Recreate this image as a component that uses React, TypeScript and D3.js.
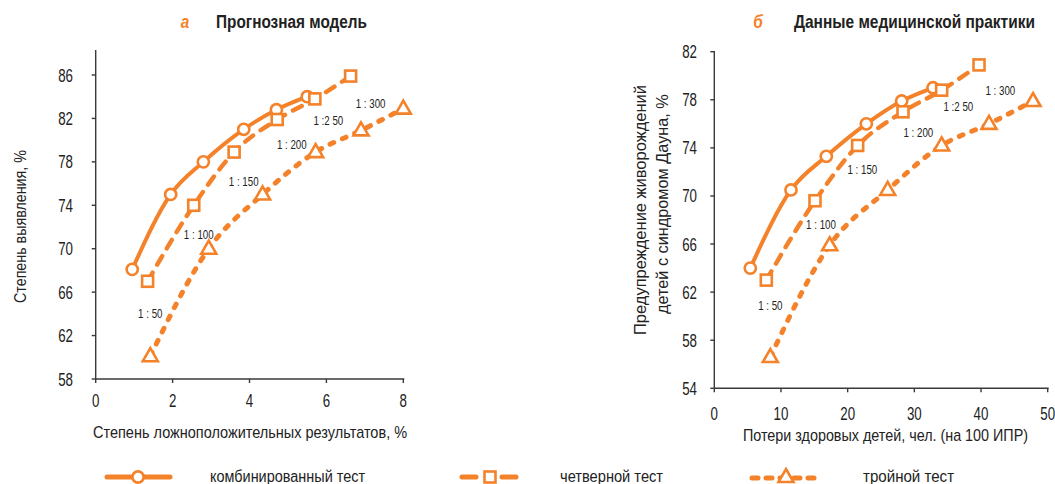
import React, { useLayoutEffect, useRef, useState } from "react";
import * as d3 from "d3";

const ORANGE = "#F4822A";
const AXIS = "#3a3a3a";
const FONT = "'Liberation Sans', Arial, sans-serif";

// Panel A: Прогнозная модель
const aXTicks = [0, 2, 4, 6, 8];
const aYTicks = [58, 62, 66, 70, 74, 78, 82, 86];
const aCombX = [0.95, 1.95, 2.8, 3.85, 4.7, 5.5];
const aCombY = [68.1, 75, 78, 81, 82.8, 84];
const aQuadX = [1.35, 2.55, 3.6, 4.72, 5.7, 6.63];
const aQuadY = [67, 74, 78.9, 81.9, 83.8, 85.9];
const aTripX = [1.42, 2.94, 4.34, 5.72, 6.9, 8.0];
const aTripY = [60.1, 70, 75, 78.9, 80.9, 82.9];
const aRatioLabels = ["1 : 50", "1 : 100", "1 : 150", "1 : 200", "1 :2 50", "1 : 300"];
const aRatioX = [1.42, 2.68, 3.85, 5.1, 6.05, 7.15];
const aRatioY = [64.0, 71.3, 76.2, 79.6, 81.8, 83.4];

// Panel B: Данные медицинской практики
const bXTicks = [0, 10, 20, 30, 40, 50];
const bYTicks = [54, 58, 62, 66, 70, 74, 78, 82];
const bCombX = [5.4, 11.5, 16.8, 22.8, 28.1, 32.8];
const bCombY = [64.0, 70.5, 73.3, 76.0, 77.9, 79.0];
const bQuadX = [7.8, 15.1, 21.5, 28.3, 34.1, 39.7];
const bQuadY = [63.0, 69.6, 74.2, 77.0, 78.8, 80.9];
const bTripX = [8.4, 17.3, 26.0, 34.1, 41.2, 47.8];
const bTripY = [56.6, 65.9, 70.5, 74.2, 76.0, 77.9];
const bRatioLabels = ["1 : 50", "1 : 100", "1 : 150", "1 : 200", "1 :2 50", "1 : 300"];
const bRatioX = [8.4, 16.0, 22.2, 30.6, 36.6, 42.9];
const bRatioY = [60.9, 67.6, 72.2, 75.3, 77.4, 78.8];

const legendLabels = ["комбинированный тест", "четверной тест", "тройной тест"];

type TProps = {
  x: number;
  y: number;
  children: React.ReactNode;
  size?: number;
  sx?: number;
  anchor?: "start" | "middle" | "end";
  rotate?: number;
  weight?: string;
  italic?: boolean;
  fill?: string;
  len?: number;
};

const T = ({ x, y, children, size = 16, sx = 1, anchor = "start", rotate = 0, weight = "normal", italic = false, fill = "#222", len }: TProps) => {
  const ref = useRef<SVGTextElement>(null);
  const [s, setS] = useState(len ? 0.85 : sx);
  useLayoutEffect(() => {
    if (len && ref.current) {
      const w = ref.current.getComputedTextLength();
      if (w > 0) setS(len / w);
    }
  }, [len, children]);
  return (
    <g transform={`translate(${x},${y}) rotate(${rotate}) scale(${s},1)`}>
      <text
        ref={ref}
        textAnchor={anchor}
        fontFamily={FONT}
        fontSize={size}
        fontWeight={weight}
        fontStyle={italic ? "italic" : "normal"}
        fill={fill}
      >
        {children}
      </text>
    </g>
  );
};

type PanelProps = {
  letter: string;
  title: string;
  letterX: number;
  titleX: number;
  titleLen: number;
  xDomain: [number, number];
  xRange: [number, number];
  yDomain: [number, number];
  yRange: [number, number];
  axisTop: number;
  xTicks: number[];
  yTicks: number[];
  yLabelRight: number;
  xTickBaseline: number;
  xLabel: string;
  xLabelX: number;
  xLabelY: number;
  xLabelLen: number;
  yLabelLines: string[];
  yLabelXs: number[];
  yLabelYs: number[];
  yLabelLens: number[];
  comb: [number[], number[]];
  quad: [number[], number[]];
  trip: [number[], number[]];
  ratio: [string[], number[], number[]];
};

const Circle = ({ x, y }: { x: number; y: number }) => (
  <circle cx={x} cy={y} r={5.6} fill="#fff" stroke={ORANGE} strokeWidth={2.6} />
);
const Square = ({ x, y }: { x: number; y: number }) => (
  <rect x={x - 5.5} y={y - 5.5} width={11} height={11} fill="#fff" stroke={ORANGE} strokeWidth={2.6} />
);
const Triangle = ({ x, y }: { x: number; y: number }) => (
  <path d={`M${x},${y - 8} L${x + 7.5},${y + 5} L${x - 7.5},${y + 5} Z`} fill="#fff" stroke={ORANGE} strokeWidth={2.6} strokeLinejoin="miter" />
);

function Panel(p: PanelProps) {
  const x = d3.scaleLinear().domain(p.xDomain).range(p.xRange);
  const y = d3.scaleLinear().domain(p.yDomain).range(p.yRange);
  const line = d3
    .line<[number, number]>()
    .x((d) => x(d[0]))
    .y((d) => y(d[1]))
    .curve(d3.curveMonotoneX);
  const pts = (s: [number[], number[]]) => s[0].map((v, i) => [v, s[1][i]] as [number, number]);
  const x0 = p.xRange[0];
  const y0 = p.yRange[0];
  return (
    <g>
      <T x={p.letterX} y={28} fill={ORANGE} size={18} weight="bold" italic anchor="middle" sx={0.85}>
        {p.letter}
      </T>
      <T x={p.titleX} y={28} size={18} weight="bold" len={p.titleLen}>
        {p.title}
      </T>
      {/* axes */}
      <line x1={x0} x2={x0} y1={p.axisTop} y2={y0} stroke={AXIS} strokeWidth={1.4} />
      <line x1={x0} x2={p.xRange[1] + 1} y1={y0} y2={y0} stroke={AXIS} strokeWidth={1.4} />
      {p.yTicks.map((t) => (
        <g key={"y" + t}>
          <line x1={x0 - 4} x2={x0} y1={y(t)} y2={y(t)} stroke={AXIS} strokeWidth={1.4} />
          <T x={p.yLabelRight} y={y(t) + 6.5} anchor="end" size={18.5} sx={0.72}>
            {t}
          </T>
        </g>
      ))}
      {p.xTicks.map((t) => (
        <g key={"x" + t}>
          <line x1={x(t)} x2={x(t)} y1={y0} y2={y0 + 4} stroke={AXIS} strokeWidth={1.4} />
          <T x={x(t)} y={p.xTickBaseline} anchor="middle" size={18.5} sx={0.72}>
            {t}
          </T>
        </g>
      ))}
      <T x={p.xLabelX} y={p.xLabelY} size={17} len={p.xLabelLen}>
        {p.xLabel}
      </T>
      {p.yLabelLines.map((l, i) => (
        <T key={l} x={p.yLabelXs[i]} y={p.yLabelYs[i]} rotate={-90} size={17} len={p.yLabelLens[i]}>
          {l}
        </T>
      ))}
      {/* series */}
      <path d={line(pts(p.trip)) || ""} fill="none" stroke={ORANGE} strokeWidth={5} strokeDasharray="4 9.5" strokeLinecap="round" />
      <path d={line(pts(p.quad)) || ""} fill="none" stroke={ORANGE} strokeWidth={4.4} strokeDasharray="10 9" strokeLinecap="round" />
      <path d={line(pts(p.comb)) || ""} fill="none" stroke={ORANGE} strokeWidth={4} />
      {pts(p.comb).map((d, i) => (
        <Circle key={"c" + i} x={x(d[0])} y={y(d[1])} />
      ))}
      {pts(p.quad).map((d, i) => (
        <Square key={"s" + i} x={x(d[0])} y={y(d[1])} />
      ))}
      {pts(p.trip).map((d, i) => (
        <Triangle key={"t" + i} x={x(d[0])} y={y(d[1])} />
      ))}
      {p.ratio[0].map((l, i) => (
        <T key={"r" + i} x={x(p.ratio[1][i])} y={y(p.ratio[2][i]) + 4.5} anchor="middle" size={12.5} sx={0.78}>
          {l}
        </T>
      ))}
    </g>
  );
}

export default function App() {
  return (
    <svg width={1055} height={484} style={{ position: "absolute", left: 0, top: 0, background: "#fff" }}>
      <rect width={1055} height={484} fill="#fff" />
      <Panel
        letter="а"
        title="Прогнозная модель"
        letterX={185}
        titleX={216}
        titleLen={151}
        xDomain={[0, 8]}
        xRange={[95.7, 403.3]}
        yDomain={[58, 86]}
        yRange={[379, 75]}
        axisTop={50}
        xTicks={aXTicks}
        yTicks={aYTicks}
        yLabelRight={73}
        xTickBaseline={407}
        xLabel="Степень ложноположительных результатов, %"
        xLabelX={93}
        xLabelY={438}
        xLabelLen={314}
        yLabelLines={["Степень выявления, %"]}
        yLabelXs={[26]}
        yLabelYs={[303]}
        yLabelLens={[153]}
        comb={[aCombX, aCombY]}
        quad={[aQuadX, aQuadY]}
        trip={[aTripX, aTripY]}
        ratio={[aRatioLabels, aRatioX, aRatioY]}
      />
      <Panel
        letter="б"
        title="Данные медицинской практики"
        letterX={758}
        titleX={794}
        titleLen={241}
        xDomain={[0, 50]}
        xRange={[714.3, 1047.7]}
        yDomain={[54, 82]}
        yRange={[388.3, 51.7]}
        axisTop={51}
        xTicks={bXTicks}
        yTicks={bYTicks}
        yLabelRight={697}
        xTickBaseline={420}
        xLabel="Потери здоровых детей, чел. (на 100 ИПР)"
        xLabelX={743}
        xLabelY={441}
        xLabelLen={285}
        yLabelLines={["Предупреждение живорождений", "детей с синдромом Дауна, %"]}
        yLabelXs={[646, 668]}
        yLabelYs={[335, 314]}
        yLabelLens={[250, 220]}
        comb={[bCombX, bCombY]}
        quad={[bQuadX, bQuadY]}
        trip={[bTripX, bTripY]}
        ratio={[bRatioLabels, bRatioX, bRatioY]}
      />
      {/* legend */}
      <g>
        <line x1={107} x2={170} y1={477} y2={477} stroke={ORANGE} strokeWidth={5} strokeLinecap="round" />
        <Circle x={138} y={477} />
        <T x={210} y={482} size={16} len={155}>{legendLabels[0]}</T>
        <line x1={462} x2={527} y1={477} y2={477} stroke={ORANGE} strokeWidth={5} strokeLinecap="round" strokeDasharray="14 13 0 13 14" />
        <Square x={490} y={477} />
        <T x={560} y={482} size={16} len={103}>{legendLabels[1]}</T>
        <line x1={752} x2={821} y1={478} y2={478} stroke={ORANGE} strokeWidth={5} strokeLinecap="round" strokeDasharray="6 8" />
        <Triangle x={786} y={477} />
        <T x={863} y={482} size={16} len={91}>{legendLabels[2]}</T>
      </g>
    </svg>
  );
}
